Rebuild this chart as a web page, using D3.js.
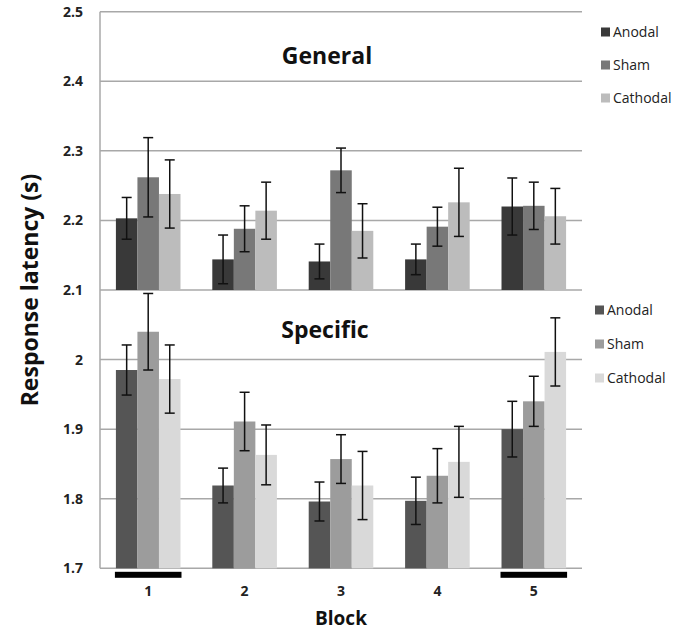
<!DOCTYPE html>
<html>
<head>
<meta charset="utf-8">
<script src="https://cdn.jsdelivr.net/npm/d3@7"></script>
<style>
  body { margin: 0; background: #fff; }
  text { font-family: "Open Sans", sans-serif; }
</style>
</head>
<body>
<div id="chart"></div>
<script>
const blocks = ["1", "2", "3", "4", "5"];
const conditions = ["Anodal", "Sham", "Cathodal"];

// General task (bars rise from 2.1)
const generalMean = {
  Anodal:   [2.203, 2.144, 2.141, 2.144, 2.220],
  Sham:     [2.262, 2.188, 2.272, 2.191, 2.221],
  Cathodal: [2.238, 2.214, 2.185, 2.226, 2.206]
};
const generalErr = {
  Anodal:   [0.030, 0.035, 0.025, 0.022, 0.041],
  Sham:     [0.057, 0.033, 0.032, 0.028, 0.034],
  Cathodal: [0.049, 0.041, 0.039, 0.049, 0.040]
};

// Specific task (bars rise from 1.7)
const specificMean = {
  Anodal:   [1.985, 1.819, 1.796, 1.797, 1.900],
  Sham:     [2.040, 1.911, 1.857, 1.833, 1.940],
  Cathodal: [1.972, 1.863, 1.819, 1.853, 2.011]
};
const specificErr = {
  Anodal:   [0.036, 0.025, 0.028, 0.034, 0.040],
  Sham:     [0.055, 0.042, 0.035, 0.039, 0.036],
  Cathodal: [0.049, 0.043, 0.049, 0.051, 0.049]
};

const yTicks = [1.7, 1.8, 1.9, 2.0, 2.1, 2.2, 2.3, 2.4, 2.5];
const markedBlocks = ["1", "5"];

const generalColors = ["#393939", "#787878", "#bcbcbc"];
const specificColors = ["#555555", "#9c9c9c", "#d9d9d9"];

const W = 683, H = 631;
const plotLeft = 100, plotRight = 582, plotTop = 11.7, plotBottom = 568.3;

const svg = d3.select("#chart").append("svg")
  .attr("width", W).attr("height", H);

const x0 = d3.scaleBand().domain(blocks)
  .range([plotLeft, plotRight])
  .paddingInner(0.33).paddingOuter(0.165);
const x1 = d3.scaleBand().domain(conditions)
  .range([0, x0.bandwidth()]);
const y = d3.scaleLinear().domain([1.7, 2.5]).range([plotBottom, plotTop]);

// gridlines
svg.append("g").selectAll("line").data(yTicks).enter().append("line")
  .attr("x1", plotLeft).attr("x2", plotRight)
  .attr("y1", d => y(d)).attr("y2", d => y(d))
  .attr("stroke", "#a8a8a8").attr("stroke-width", 1.5);

// y axis line + labels
svg.append("line")
  .attr("x1", plotLeft).attr("x2", plotLeft).attr("y1", y(2.5)).attr("y2", y(1.7))
  .attr("stroke", "#a8a8a8").attr("stroke-width", 1.5);

const yAxis = svg.append("g")
  .attr("transform", `translate(${plotLeft},0)`)
  .call(d3.axisLeft(y).tickValues(yTicks).tickSize(0).tickPadding(17)
    .tickFormat(d => d === 2 ? "2" : d3.format(".1f")(d)));
yAxis.select(".domain").remove();
yAxis.selectAll("text")
  .style("font-family", "Open Sans").style("font-size", "14px")
  .style("font-weight", "bold").attr("fill", "#222");

function drawPanel(means, errs, colors, base) {
  const rows = [];
  blocks.forEach((b, i) => {
    conditions.forEach(c => rows.push({ block: b, cond: c, v: means[c][i], e: errs[c][i] }));
  });
  const col = d3.scaleOrdinal().domain(conditions).range(colors);
  const g = svg.append("g");
  g.selectAll("rect").data(rows).enter().append("rect")
    .attr("x", d => x0(d.block) + x1(d.cond))
    .attr("width", x1.bandwidth())
    .attr("y", d => y(d.v))
    .attr("height", d => y(base) - y(d.v))
    .attr("fill", d => col(d.cond));

  const eb = g.selectAll("g.err").data(rows).enter().append("g")
    .attr("stroke", "#111").attr("stroke-width", 1.5);
  const cx = d => x0(d.block) + x1(d.cond) + x1.bandwidth() / 2;
  eb.append("line")
    .attr("x1", cx).attr("x2", cx)
    .attr("y1", d => y(d.v + d.e)).attr("y2", d => y(d.v - d.e));
  eb.append("line")
    .attr("x1", d => cx(d) - 5).attr("x2", d => cx(d) + 5)
    .attr("y1", d => y(d.v + d.e)).attr("y2", d => y(d.v + d.e));
  eb.append("line")
    .attr("x1", d => cx(d) - 5).attr("x2", d => cx(d) + 5)
    .attr("y1", d => y(d.v - d.e)).attr("y2", d => y(d.v - d.e));
}

drawPanel(generalMean, generalErr, generalColors, 2.1);
drawPanel(specificMean, specificErr, specificColors, 1.7);

// marked blocks (black bars under the axis)
svg.append("g").selectAll("rect").data(markedBlocks).enter().append("rect")
  .attr("x", d => x0(d) - 1)
  .attr("width", x0.bandwidth() + 2)
  .attr("y", y(1.7) + 3.5).attr("height", 6)
  .attr("fill", "#000");

// x tick labels
svg.append("g").selectAll("text").data(blocks).enter().append("text")
  .attr("x", d => x0(d) + x0.bandwidth() / 2)
  .attr("y", 596)
  .attr("text-anchor", "middle")
  .style("font-size", "14px").style("font-weight", "bold").attr("fill", "#222")
  .text(d => d);

// axis titles
svg.append("text")
  .attr("x", (plotLeft + plotRight) / 2).attr("y", 625)
  .attr("text-anchor", "middle")
  .style("font-size", "19px").style("font-weight", "bold").attr("fill", "#111")
  .text("Block");

svg.append("text")
  .attr("transform", `translate(38,${(plotTop + plotBottom) / 2}) rotate(-90)`)
  .attr("text-anchor", "middle")
  .style("font-size", "23px").style("font-weight", "bold").attr("fill", "#111")
  .text("Response latency (s)");

// panel titles
svg.append("text")
  .attr("x", 327).attr("y", 64)
  .attr("text-anchor", "middle")
  .style("font-size", "23px").style("font-weight", "bold").attr("fill", "#111")
  .text("General");

svg.append("text")
  .attr("x", 325).attr("y", 338)
  .attr("text-anchor", "middle")
  .style("font-size", "23px").style("font-weight", "bold").attr("fill", "#111")
  .text("Specific");

// legends
function legend(colors, lx, ly, step) {
  const g = svg.append("g").attr("transform", `translate(${lx},${ly})`);
  conditions.forEach((c, i) => {
    g.append("rect").attr("x", 0).attr("y", i * step - 4.5)
      .attr("width", 9).attr("height", 9).attr("fill", colors[i]);
    g.append("text").attr("x", 12).attr("y", i * step)
      .attr("dy", "0.35em")
      .style("font-size", "14px").attr("fill", "#222")
      .text(c);
  });
}
legend(generalColors, 601, 32, 33);
legend(specificColors, 595, 310, 34);
</script>
</body>
</html>
